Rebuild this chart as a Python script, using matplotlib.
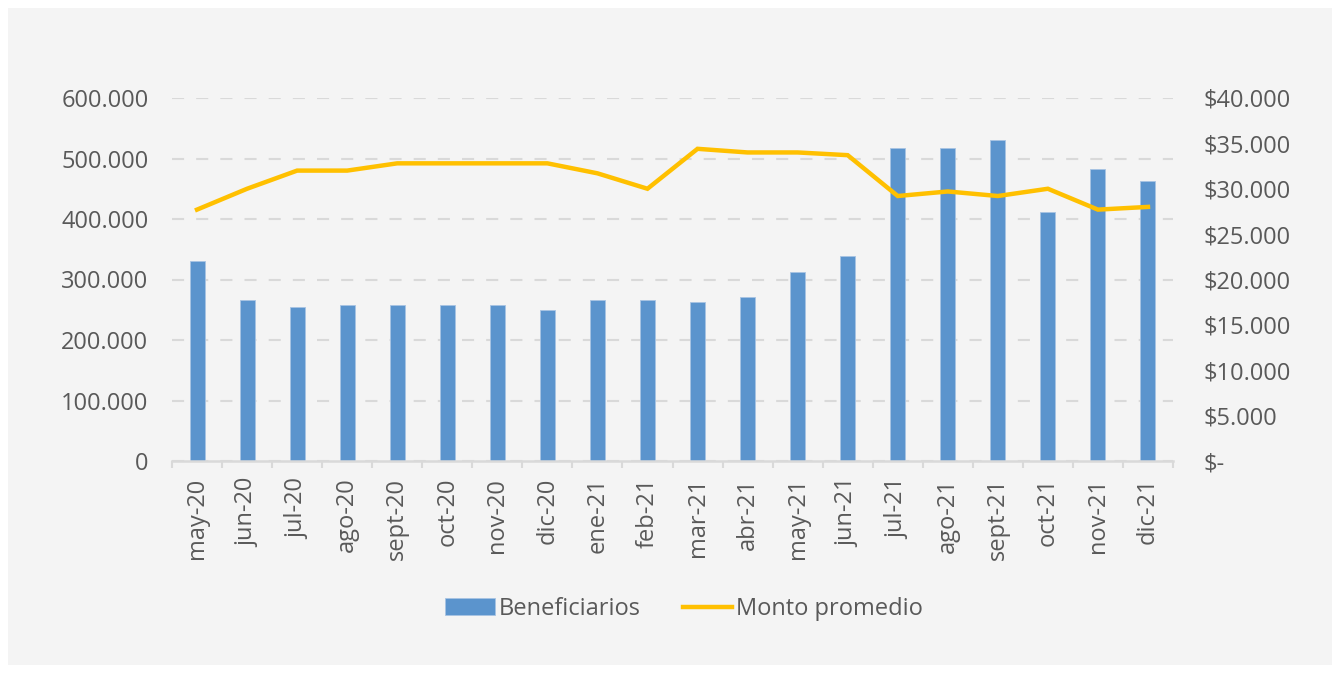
import matplotlib
matplotlib.use("Agg")
import matplotlib.pyplot as plt
from matplotlib.patches import Rectangle
from matplotlib.ticker import FixedLocator, FuncFormatter
import numpy as np

plt.rcParams['font.family'] = ['Open Sans', 'DejaVu Sans']

months = ["may-20", "jun-20", "jul-20", "ago-20", "sept-20", "oct-20", "nov-20", "dic-20",
          "ene-21", "feb-21", "mar-21", "abr-21", "may-21", "jun-21", "jul-21", "ago-21",
          "sept-21", "oct-21", "nov-21", "dic-21"]
beneficiarios = [330000, 266000, 254000, 258000, 258000, 258000, 258000, 250000,
                 266000, 266000, 263000, 271000, 313000, 339000, 517000, 517000,
                 530000, 411000, 483000, 462000]
monto_promedio = [27700, 30000, 32000, 32000, 32800, 32800, 32800, 32800,
                  31700, 30000, 34400, 34000, 34000, 33700, 29200, 29700,
                  29200, 30000, 27700, 28000]
left_ticks = [0, 100000, 200000, 300000, 400000, 500000, 600000]
right_ticks = [0, 5000, 10000, 15000, 20000, 25000, 30000, 35000, 40000]

TXT = "#595959"
GRID = "#d9d9d9"
BAR = "#5B94CD"
LINE = "#FFC000"
FS = 17

W, H = 1340, 673
fig = plt.figure(figsize=(W / 100, H / 100), dpi=100, facecolor="white")
fig.patches.append(Rectangle((8 / W, 8 / H), (W - 16) / W, (H - 16) / H,
                             transform=fig.transFigure, facecolor="#f4f4f4",
                             edgecolor="none", zorder=-10))

ax = fig.add_axes([172 / W, 1 - 461 / H, (1173 - 172) / W, (461 - 98) / H])
ax.set_facecolor("none")
x = np.arange(len(months))
bars = ax.bar(x, beneficiarios, width=0.3, color=BAR, edgecolor="#a8c4e3",
              linewidth=0.6, label="Beneficiarios", zorder=2)
ax.set_xlim(-0.5, len(months) - 0.5)
ax.set_ylim(0, 600000)
ax.yaxis.set_major_locator(FixedLocator(left_ticks))
ax.yaxis.set_major_formatter(FuncFormatter(lambda v, p: "0" if v == 0 else f"{int(v):,}".replace(",", ".")))
ax.grid(axis="y", color=GRID, linewidth=1.5, linestyle=(0, (5.8, 5.8)), zorder=0)
ax.set_axisbelow(True)
for s in ["top", "right", "left"]:
    ax.spines[s].set_visible(False)
ax.spines["bottom"].set_color(GRID)
ax.spines["bottom"].set_linewidth(1.8)
ax.set_xticks(x)
ax.set_xticklabels(months, rotation=90, fontsize=FS, color=TXT)
ax.tick_params(axis="x", which="major", length=0, pad=12)
ax.set_xticks(np.arange(-0.5, len(months), 1.0), minor=True)
ax.tick_params(axis="x", which="minor", length=5, width=1.5, color=GRID)
ax.tick_params(axis="y", length=0, pad=17, labelsize=FS, labelcolor=TXT)

ax2 = ax.twinx()
ax2.set_ylim(0, 40000)
line, = ax2.plot(x, monto_promedio, color=LINE, linewidth=3.2, label="Monto promedio",
                 solid_joinstyle="miter", zorder=3)
ax2.yaxis.set_major_locator(FixedLocator(right_ticks))
ax2.yaxis.set_major_formatter(FuncFormatter(lambda v, p: "$-" if v == 0 else "$" + f"{int(v):,}".replace(",", ".")))
for s in ax2.spines.values():
    s.set_visible(False)
ax2.tick_params(axis="y", length=0, pad=22, labelsize=FS, labelcolor=TXT)

leg = fig.legend([bars, line], ["Beneficiarios", "Monto promedio"], loc="center",
                 bbox_to_anchor=(684 / W, 1 - 609 / H), ncol=2, frameon=False,
                 fontsize=FS, labelcolor=TXT, handlelength=2.1, handleheight=0.75,
                 handletextpad=0.15, columnspacing=1.8)

fig.savefig("out.png", dpi=100, facecolor="white")
